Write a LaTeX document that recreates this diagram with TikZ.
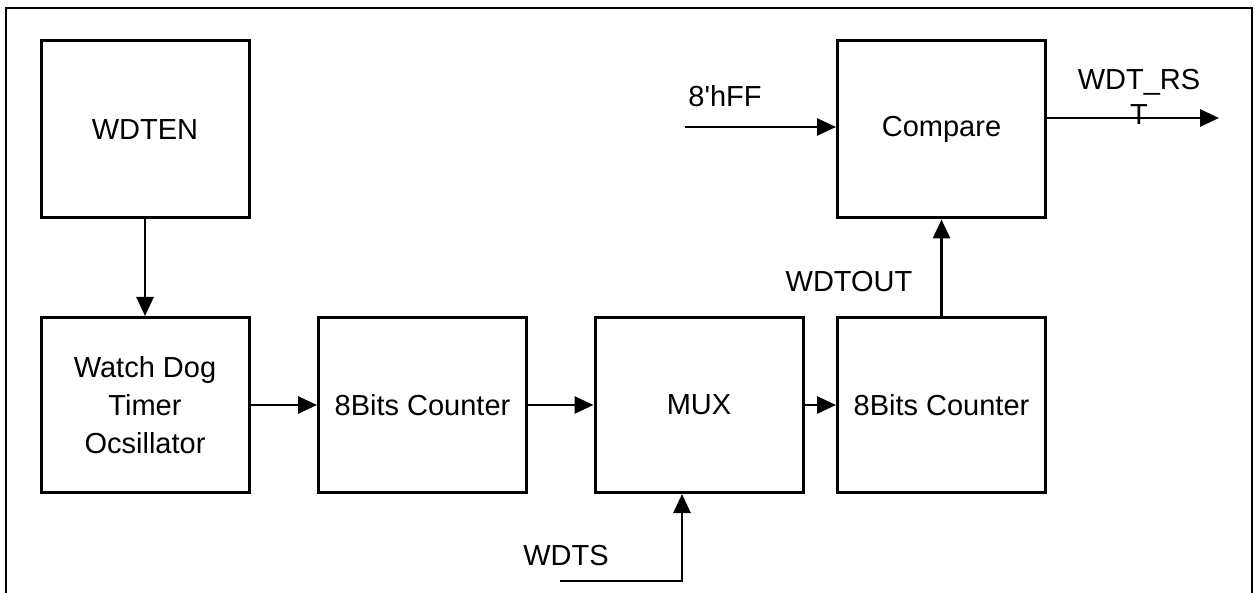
\documentclass[tikz,border=0pt]{standalone}
\usepackage{fontspec}
\setmainfont{Liberation Sans}
\newfontfamily\plainfont{Liberation Sans}
\usetikzlibrary{arrows.meta}
\begin{document}
\begin{tikzpicture}[x=1pt,y=-1pt,
  every node/.style={font=\fontsize{29}{38}\selectfont},
  blk/.style={draw,line width=3pt,minimum width=208pt,minimum height=175pt,align=center,inner sep=0pt},
  lbl/.style={inner sep=0pt},
  conn/.style={line width=2.8pt,-{Triangle[length=19pt,width=17pt]}}]
\useasboundingbox (0,0) rectangle (1255,593);
\draw[line width=2.8pt] (6,593) -- (6,8) -- (1252,8) -- (1252,593);
\node[blk,minimum height=177pt] (wdten) at (145,129.5) {WDTEN};
\node[blk,minimum height=177pt] (cmp) at (941.5,129.5) {Compare};
\node[blk] (osc) at (145,405) {Watch Dog\\Timer\\Ocsillator};
\node[blk] (c1) at (422.5,405) {8Bits Counter};
\node[blk] (mux) at (699,405) {MUX};
\node[blk] (c2) at (941.5,405) {8Bits Counter};
\draw[conn] (wdten.south) -- (osc.north);
\draw[conn] (osc.east) -- (c1.west);
\draw[conn] (c1.east) -- (mux.west);
\draw[conn] (mux.east) -- (c2.west);
\draw[conn] (c2.north) -- (cmp.south);
\coordinate (ff) at (685,127);
\draw[conn] (ff) -- (ff -| cmp.west);
\coordinate (rst) at (1219,118);
\draw[conn] (rst -| cmp.east) -- (rst);
\coordinate (ws) at (560,581);
\coordinate (wsc) at (682,581);
\draw[conn] (ws) -- (wsc) -- (wsc |- mux.south);
\node[lbl,font=\plainfont\fontsize{29}{38}\selectfont] (lff) at (725,96) {8'hFF};
\node[lbl] (lout) at (849,282) {WDTOUT};
\node[lbl] (lws) at (566,556) {WDTS};
\node[lbl,align=center,font=\fontsize{29}{35}\selectfont] (lrst) at (1139,97) {WDT\_RS\\T};
\end{tikzpicture}
\end{document}
